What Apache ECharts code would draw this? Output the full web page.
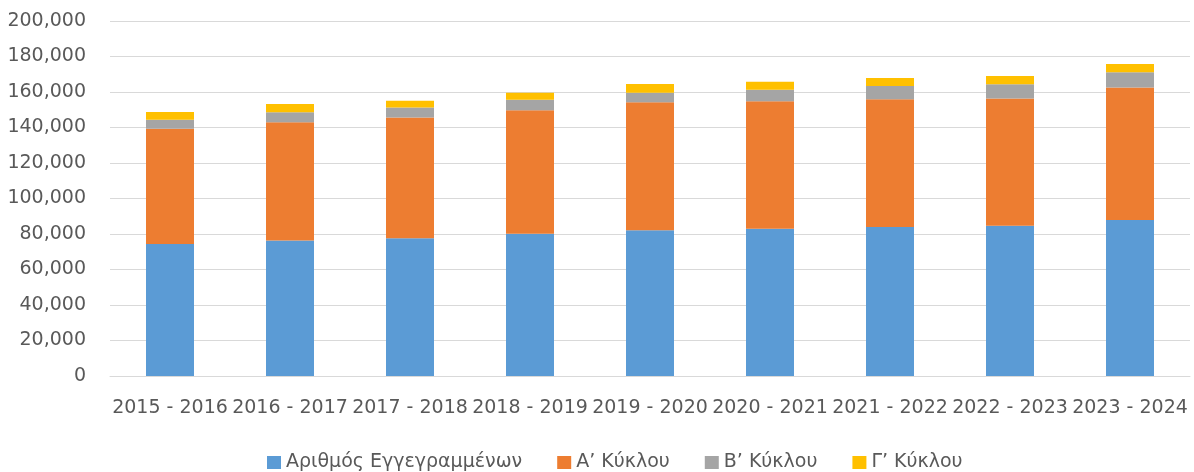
<!DOCTYPE html>
<html>
<head>
<meta charset="utf-8">
<script src="https://cdn.jsdelivr.net/npm/echarts@6/dist/echarts.min.js"></script>
<style>
  html, body { margin: 0; padding: 0; background: #fff; }
  #chart { width: 1194px; height: 472px; }
</style>
</head>
<body>
<div id="chart"></div>
<script>
// school years
const years = [
  '2015 - 2016', '2016 - 2017', '2017 - 2018', '2018 - 2019', '2019 - 2020',
  '2020 - 2021', '2021 - 2022', '2022 - 2023', '2023 - 2024'
];
// series values
const registered = [74400, 76400, 77600, 80200, 82100, 83000, 83900, 84700, 87900];
const cycleA = [64900, 66500, 68100, 69500, 72100, 71800, 72000, 71700, 74700];
const cycleB = [5100, 5700, 5500, 6000, 5400, 6500, 7500, 7900, 8500];
const cycleC = [4300, 4600, 3900, 3900, 4900, 4500, 4500, 4700, 4700];

const seriesNames = ['Αριθμός Εγγεγραμμένων', 'Α’ Κύκλου', 'Β’ Κύκλου', 'Γ’ Κύκλου'];
const colors = ['#5B9BD5', '#ED7D31', '#A5A5A5', '#FFC000'];

const font = 'DejaVu Sans';
const textColor = '#595959';

const chart = echarts.init(document.getElementById('chart'));

const makeBar = (name, data) => ({
  name,
  type: 'bar',
  stack: 'total',
  barWidth: '40%',
  data,
});

chart.setOption({
  animation: false,
  color: colors,
  textStyle: { fontFamily: font },
  grid: {
    left: 110,
    right: 4,
    top: 21,
    bottom: 96,
  },
  legend: {
    top: 448,
    left: 262,
    itemWidth: 14,
    itemHeight: 13,
    itemGap: 35,
    icon: 'rect',
    textStyle: { fontFamily: font, fontSize: 19, color: textColor },
    data: seriesNames,
  },
  xAxis: {
    type: 'category',
    data: years,
    axisLine: { show: true, lineStyle: { color: '#d9d9d9', width: 1 } },
    axisTick: { show: false },
    axisLabel: {
      interval: 0,
      margin: 23,
      fontFamily: font,
      fontSize: 19,
      color: textColor,
    },
  },
  yAxis: {
    type: 'value',
    min: 0,
    max: 200000,
    interval: 20000,
    axisLine: { show: false },
    axisTick: { show: false },
    splitLine: { lineStyle: { color: '#d9d9d9', width: 1 } },
    axisLabel: {
      margin: 24,
      fontFamily: font,
      fontSize: 19,
      color: textColor,
      formatter: v => v.toLocaleString('en-US'),
    },
  },
  series: [
    makeBar(seriesNames[0], registered),
    makeBar(seriesNames[1], cycleA),
    makeBar(seriesNames[2], cycleB),
    makeBar(seriesNames[3], cycleC),
  ],
});
</script>
</body>
</html>
